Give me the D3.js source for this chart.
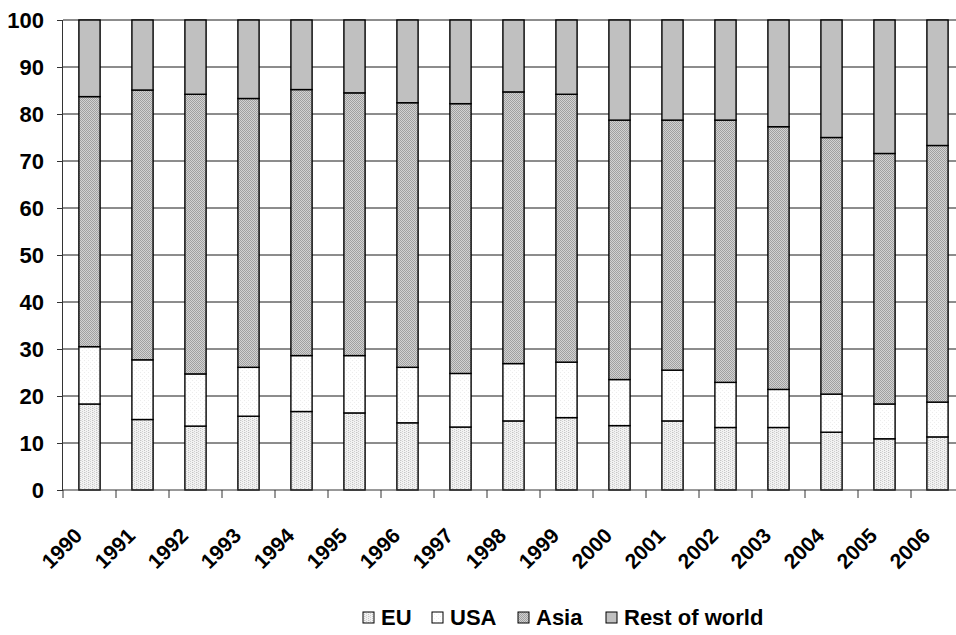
<!DOCTYPE html>
<html>
<head>
<meta charset="utf-8">
<script src="https://cdn.jsdelivr.net/npm/d3@7"></script>
<style>
  html, body { margin: 0; padding: 0; background: #fff; }
  svg { display: block; }
  text { font-family: "Liberation Sans", Arial, sans-serif; font-weight: bold; fill: #000; }
</style>
</head>
<body>
<script>
// Regional shares (%) by year
const years = ["1990","1991","1992","1993","1994","1995","1996","1997","1998","1999","2000","2001","2002","2003","2004","2005","2006"];
const eu   = [18.3,15.0,13.6,15.7,16.7,16.4,14.3,13.4,14.7,15.4,13.7,14.7,13.3,13.3,12.3,10.9,11.3];
const usa  = [12.2,12.7,11.1,10.4,11.9,12.2,11.8,11.4,12.2,11.8, 9.8,10.8, 9.6, 8.1, 8.1, 7.4, 7.4];
const asia = [53.2,57.4,59.5,57.2,56.6,55.9,56.3,57.4,57.8,57.0,55.2,53.2,55.8,55.9,54.6,53.3,54.6];
const rest = [16.3,14.9,15.8,16.7,14.8,15.5,17.6,17.8,15.3,15.8,21.3,21.3,21.3,22.7,25.0,28.4,26.7];
const seriesNames = ["EU", "USA", "Asia", "Rest of world"];
const yTicks = [0,10,20,30,40,50,60,70,80,90,100];

const W = 956, H = 635;
const plotLeft = 63, plotTop = 20, plotBottom = 490, plotRight = 964;

const svg = d3.select("body").append("svg").attr("width", W).attr("height", H);

// Fill patterns for the four series
const defs = svg.append("defs");
function pattern(id, size, bg, dots) {
  const p = defs.append("pattern").attr("id", id).attr("patternUnits", "userSpaceOnUse")
    .attr("width", size).attr("height", size);
  p.append("rect").attr("width", size).attr("height", size).attr("fill", bg);
  dots.forEach(([x, y, c]) => p.append("rect").attr("x", x).attr("y", y).attr("width", 1).attr("height", 1).attr("fill", c));
  return "url(#" + id + ")";
}
const fills = [
  pattern("pEU", 4, "#f2f2f2", [[0,0,"#c4c4c4"],[2,1,"#d0d0d0"],[0,2,"#c4c4c4"],[2,3,"#d0d0d0"],[1,0,"#e0e0e0"]]),
  pattern("pUSA", 4, "#ffffff", [[0,0,"#ececec"],[2,2,"#efefef"]]),
  pattern("pAsia", 2, "#d2d2d2", [[0,0,"#a0a0a0"],[1,1,"#a0a0a0"]]),
  "#c0c0c0"
];

const x = d3.scaleBand().domain(years).range([plotLeft, plotRight]).paddingInner(0.6).paddingOuter(0.3);
const y = d3.scaleLinear().domain([0, 100]).range([plotBottom, plotTop]);

// Gridlines
svg.append("g").selectAll("line").data(yTicks.filter(d => d > 0)).join("line")
  .attr("x1", plotLeft).attr("x2", W).attr("y1", d => y(d)).attr("y2", d => y(d))
  .attr("stroke", "#1a1a1a").attr("stroke-width", 1);

// Stacked bars
const rows = years.map((yr, i) => ({ year: yr, EU: eu[i], USA: usa[i], Asia: asia[i], "Rest of world": rest[i] }));
const stacked = d3.stack().keys(seriesNames)(rows);
svg.append("g").selectAll("g").data(stacked).join("g")
  .attr("fill", (d, i) => fills[i])
  .selectAll("rect").data(d => d).join("rect")
  .attr("x", d => x(d.data.year))
  .attr("width", x.bandwidth())
  .attr("y", d => y(d[1]))
  .attr("height", d => y(d[0]) - y(d[1]))
  .attr("stroke", "#000").attr("stroke-width", 1.4);

// Y axis
const yAxis = d3.axisLeft(y).tickValues(yTicks).tickSize(6).tickPadding(13);
const gy = svg.append("g").attr("transform", `translate(${plotLeft},0)`).call(yAxis);
gy.select(".domain").attr("stroke", "#333").attr("d", `M-0.5,${plotTop}V${plotBottom}`);
gy.selectAll(".tick line").attr("stroke", "#333");
gy.selectAll(".tick text").style("font-size", "22px").attr("dy", "0.36em");

// X axis: ticks at category boundaries
const step = x.step();
const bounds = d3.range(years.length + 1).map(i => plotLeft + i * step);
svg.append("line").attr("x1", plotLeft).attr("x2", W).attr("y1", plotBottom).attr("y2", plotBottom).attr("stroke", "#333");
svg.append("g").selectAll("line").data(bounds).join("line")
  .attr("x1", d => d).attr("x2", d => d).attr("y1", plotBottom).attr("y2", plotBottom + 8)
  .attr("stroke", "#333");

svg.append("g").selectAll("text").data(years).join("text")
  .attr("transform", d => `translate(${x(d) + x.bandwidth() / 2 - 6},${plotBottom + 47}) rotate(-45)`)
  .attr("text-anchor", "end")
  .style("font-size", "21px")
  .text(d => d);

// Legend
const legendItems = [
  { name: seriesNames[0], bx: 363, tx: 381 },
  { name: seriesNames[1], bx: 432, tx: 450 },
  { name: seriesNames[2], bx: 518, tx: 536 },
  { name: seriesNames[3], bx: 606, tx: 624 }
];
const lg = svg.append("g");
legendItems.forEach((it, i) => {
  lg.append("rect").attr("x", it.bx).attr("y", 612).attr("width", 11).attr("height", 11)
    .attr("fill", fills[i]).attr("stroke", "#000").attr("stroke-width", 1);
  lg.append("text").attr("x", it.tx).attr("y", 625).style("font-size", "22px").text(it.name);
});
</script>
</body>
</html>
